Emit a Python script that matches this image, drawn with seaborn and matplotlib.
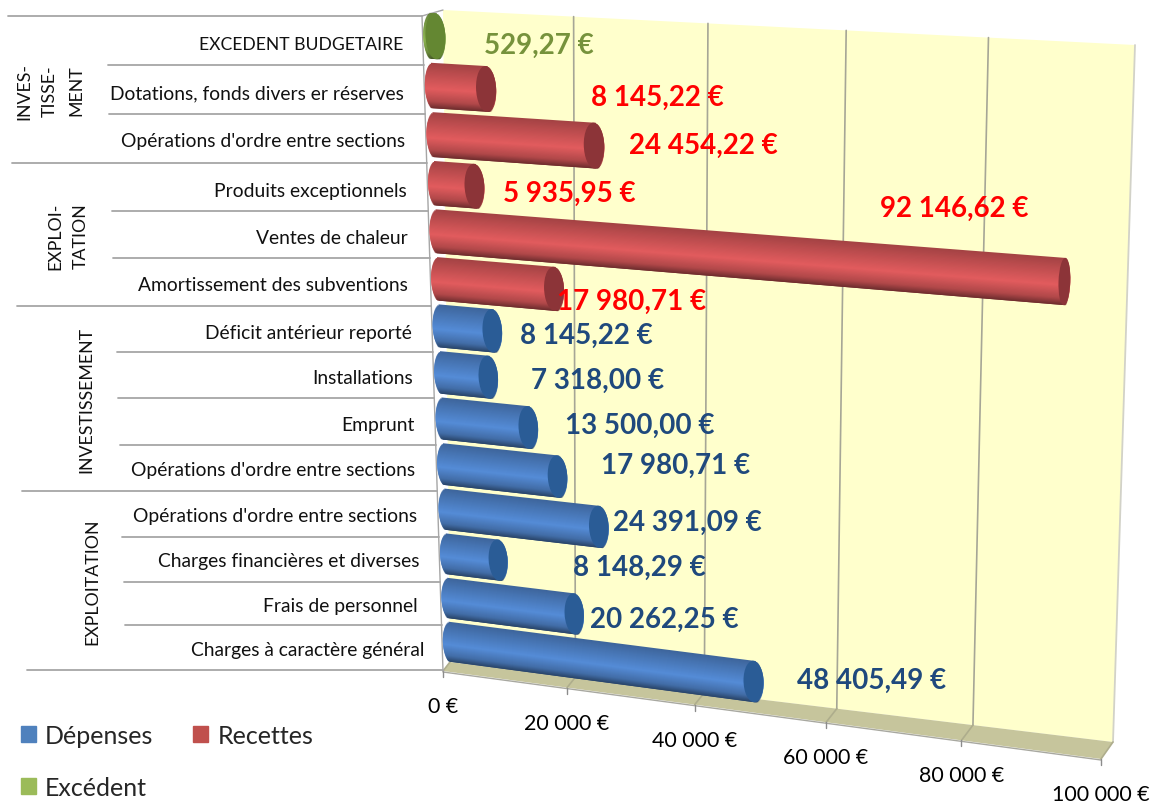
import numpy as np
import pandas as pd
import seaborn as sns
from matplotlib import pyplot as plt
from matplotlib import transforms as mtransforms
from matplotlib.patches import Ellipse, Patch, Polygon, Rectangle

# chart values, top to bottom
categories = ["EXCEDENT BUDGETAIRE", "Dotations, fonds divers er réserves", "Opérations d'ordre entre sections",
              "Produits exceptionnels", "Ventes de chaleur", "Amortissement des subventions",
              "Déficit antérieur reporté", "Installations", "Emprunt", "Opérations d'ordre entre sections",
              "Opérations d'ordre entre sections", "Charges financières et diverses", "Frais de personnel",
              "Charges à caractère général"]
values = [529.27, 8145.22, 24454.22, 5935.95, 92146.62, 17980.71, 8145.22, 7318.00, 13500.00, 17980.71,
          24391.09, 8148.29, 20262.25, 48405.49]
kinds = ["Excédent"] + ["Recettes"] * 5 + ["Dépenses"] * 8
x_ticks = [0, 20000, 40000, 60000, 80000, 100000]

# layout in pixels of the picture
cat_right = [403, 404, 405, 407, 408, 408, 412, 413, 415, 415, 417, 420, 418, 424]
cat_y = [45, 94, 142, 191, 238, 286, 334, 379, 426, 471, 517, 562, 607, 651]
val_left = [484, 591, 629, 503, 880, 557, 520, 531, 565, 601, 613, 573, 590, 797]
val_y = [46, 98, 146, 194, 209, 302, 336, 381, 426, 466, 523, 568, 620, 681]
table_lines = [(8, 17), (108, 66), (109, 115), (12, 164), (112, 212), (113, 259), (17, 307), (117, 353),
               (118, 399), (120, 446), (22, 492), (122, 538), (124, 583), (125, 626), (27, 671)]
groups = [("MENT", 76, 91), ("TISSE-", 50, 91), ("INVES-", 24, 91), ("TATION", 81, 236), ("EXPLOI-", 55, 236),
          ("INVESTISSEMENT", 86, 400), ("EXPLOITATION", 92, 582)]

palette = {"Dépenses": "#4F81BD", "Recettes": "#C0504D", "Excédent": "#9BBB59"}
highlight = {"Dépenses": (85, 140, 215), "Recettes": (226, 92, 94), "Excédent": (140, 180, 80)}
cap_color = {"Dépenses": "#2A5C96", "Recettes": "#8C3438", "Excédent": "#648732"}
text_color = {"Dépenses": "#1F497D", "Recettes": "#FF0000", "Excédent": "#76923C"}


class Homography(mtransforms.Transform):
    input_dims = 2
    output_dims = 2
    is_separable = False
    has_inverse = False

    def __init__(self, src, dst):
        super().__init__()
        a, b = [], []
        for (x, y), (u, v) in zip(src, dst):
            a.append([x, y, 1, 0, 0, 0, -u * x, -u * y])
            a.append([0, 0, 0, x, y, 1, -v * x, -v * y])
            b += [u, v]
        self.m = np.append(np.linalg.solve(np.array(a, float), np.array(b, float)), 1).reshape(3, 3)

    def transform_non_affine(self, values):
        pts = np.asarray(values, float)
        h = np.column_stack([pts, np.ones(len(pts))]) @ self.m.T
        return h[:, :2] / h[:, 2:]


sns.set_theme(style="white")
plt.rcParams["font.family"] = ["Lato", "DejaVu Sans"]

df = pd.DataFrame({"category": [f"{i} {c}" for i, c in enumerate(categories)], "value": values, "kind": kinds})

fig = plt.figure(figsize=(11.6, 8.03), dpi=100)
ax = fig.add_axes([0, 0, 1, 1])
sns.barplot(data=df, x="value", y="category", hue="kind", palette=palette, dodge=False, width=0.92,
            legend=False, ax=ax)
bars = sorted(ax.patches, key=lambda p: p.get_y())

# planes of the fake 3D box, all ending in picture pixels through ax.transData
bars_plane = Homography([(0, 0), (100000, 0), (0, 13), (100000, 13)],
                        [(432, 37), (1132, 76), (451, 643), (1102, 728)])
wall_plane = Homography([(0, 1), (100000, 1), (0, 0), (100000, 0)],
                        [(443, 11), (1135, 46), (450, 663), (1113, 743)])
front_plane = Homography([(0, 1), (100000, 1), (0, 0), (100000, 0)],
                         [(436, 20), (1123, 60), (443, 672), (1101, 760)])
bars_tr = bars_plane + ax.transData
wall_tr = wall_plane + ax.transData

# wall and floor
ax.add_patch(Polygon([(0, 0), (100000, 0), (100000, 1), (0, 1)], transform=wall_tr, fc="#FFFFCC", ec="none", zorder=1))
ax.plot([100000, 100000], [0, 1], transform=wall_tr, color="#D2D2C8", lw=1.3, zorder=1.5)
ax.add_patch(Polygon([(443, 672), (450, 663), (1113, 743), (1101, 760)], fc="#C6C59C", ec="none", zorder=1))
ax.plot([443, 1101], [673, 761], color="#A8A8A0", lw=1, zorder=1.5)

for v in x_ticks:
    if v < x_ticks[-1] and v > 0:
        ax.plot([v, v], [0, 1], transform=wall_tr, color="#A6A696", lw=1.2, zorder=1.5)
    back = wall_plane.transform(np.array([[v, 0.0]]))[0]
    front = front_plane.transform(np.array([[v, 0.0]]))[0]
    ax.plot([back[0], front[0]], [back[1], front[1]], color="#AEAD8C", lw=1.2, zorder=1.5)
    ax.plot([front[0], front[0]], [front[1], front[1] + 6], color="#8C8C8C", lw=1, zorder=1.5)
    ax.text(front[0], front[1] + 35, f"{v:,}".replace(",", " ") + " €", ha="center", va="center",
            fontsize=15.4, color="black", zorder=5, clip_on=False)

# table on the left
for x0, y in table_lines:
    x1 = 422 + (y - 17) * 21 / 654
    ax.plot([x0, x1], [y, y], color="#A6A6A6", lw=1.3, zorder=1.5)
ax.plot([422, 443], [17, 11], color="#A6A6A6", lw=1, zorder=1.5)
ax.plot([422, 443], [17, 672], color="#A6A6A6", lw=1, zorder=1.5)

for label, right, y in zip(categories, cat_right, cat_y):
    size = 12.6 if label.isupper() else 13.9
    ax.text(right, y, label, ha="right", va="center", fontsize=size, color="#111111", zorder=5)
for label, x, y in groups:
    ax.text(x, y, label, ha="center", va="center", rotation=90, fontsize=12.8, color="#111111", zorder=5)

# cylinders: every seaborn bar is re-cut in thin shaded strips, each painted over the previous one
t_stops = [-1, -0.6, 0.15, 0.7, 1]
shade_stops = [0.72, 0.82, 1.0, 0.78, 0.48]
n_strips = 40
left_radius = 1350
for bar, kind, v in zip(bars, kinds, values):
    bar.set_visible(False)
    y0, h = bar.get_y(), bar.get_height()
    radius = np.interp(v, [50000, 92000], [1550, 800])
    base = np.array(highlight[kind]) / 255
    edges = np.linspace(-1, 1, n_strips + 1)
    for t0, t1 in zip(edges[:-1], edges[1:]):
        t = (t0 + t1) / 2
        arc = np.sqrt(1 - t ** 2)
        shade = np.interp(t, t_stops, shade_stops)
        strip_y = y0 + (t0 + 1) / 2 * h
        strip_h = min(h / n_strips * 2.5, y0 + h - strip_y)
        ax.add_patch(Rectangle((-left_radius * arc, strip_y), v + (left_radius + radius) * arc, strip_h,
                               transform=bars_tr, fc=np.clip(base * shade, 0, 1), ec="none", zorder=3,
                               clip_on=False))
    ax.add_patch(Ellipse((v, y0 + h / 2), 2 * radius, h, transform=bars_tr, fc=cap_color[kind], ec="none",
                         zorder=3, clip_on=False))

# value labels
for v, kind, x, y in zip(values, kinds, val_left, val_y):
    txt = f"{v:,.2f}".replace(",", " ").replace(".", ",") + " €"
    ax.text(x, y, txt, ha="left", va="center", fontsize=20, fontweight="bold", color=text_color[kind], zorder=6)

handles = [Patch(color=palette[k], label=k) for k in ["Dépenses", "Excédent", "Recettes"]]
ax.legend(handles=handles, ncol=2, loc="lower left", bbox_to_anchor=(21 / 1160, 0.004), frameon=False,
          fontsize=18, handlelength=0.6, handleheight=0.6, handletextpad=0.36, columnspacing=1.6,
          labelspacing=1.15, borderpad=0, borderaxespad=0)

ax.set_xlim(0, 1160)
ax.set_ylim(803, 0)
ax.axis("off")
fig.savefig("out.png", dpi=100)
